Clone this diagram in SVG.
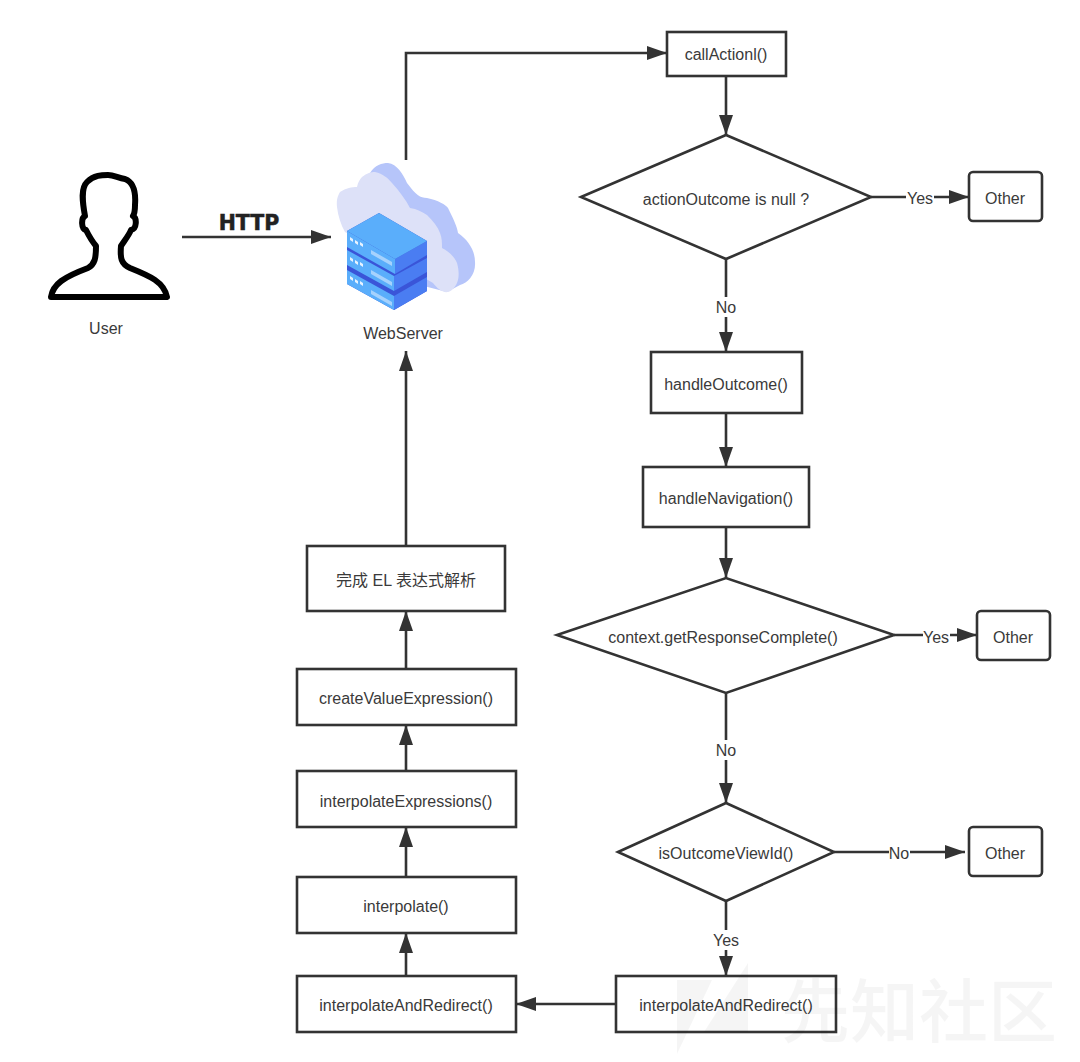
<svg xmlns="http://www.w3.org/2000/svg" width="1080" height="1062" viewBox="0 0 1080 1062">
<style>
text{font-family:"Liberation Sans","Noto Sans CJK SC",sans-serif;font-size:16px;fill:#3a3a3a;text-anchor:middle;dominant-baseline:central}
.n{fill:#fff;stroke:#333;stroke-width:2.6}
.c{fill:none;stroke:#333;stroke-width:2.6}
.w{font-family:"Noto Sans CJK SC",sans-serif;font-size:69px;fill:#000;fill-opacity:.04;font-weight:500;text-anchor:start}
</style>
<defs>
<marker id="a" markerUnits="userSpaceOnUse" markerWidth="22" markerHeight="16" refX="20" refY="7" orient="auto"><path d="M0 0L20 7L0 14Z" fill="#333"/></marker>
</defs>
<rect width="1080" height="1062" fill="#fff"/>
<g id="connectors">
<path class="c" marker-end="url(#a)" d="M182 237H331"/>
<path class="c" marker-end="url(#a)" d="M406 160V53H667"/>
<path class="c" marker-end="url(#a)" d="M726 76V135"/>
<path class="c" marker-end="url(#a)" d="M871 197H969"/>
<path class="c" marker-end="url(#a)" d="M726 259V352"/>
<path class="c" marker-end="url(#a)" d="M726 413V467"/>
<path class="c" marker-end="url(#a)" d="M726 527V578"/>
<path class="c" marker-end="url(#a)" d="M894 635H977"/>
<path class="c" marker-end="url(#a)" d="M726 693V803"/>
<path class="c" marker-end="url(#a)" d="M834 852H965"/>
<path class="c" marker-end="url(#a)" d="M726 901V976"/>
<path class="c" marker-end="url(#a)" d="M616 1004H516"/>
<path class="c" marker-end="url(#a)" d="M406 976V933"/>
<path class="c" marker-end="url(#a)" d="M406 877V827"/>
<path class="c" marker-end="url(#a)" d="M406 771V725"/>
<path class="c" marker-end="url(#a)" d="M406 669V611"/>
<path class="c" marker-end="url(#a)" d="M406 546V351"/>
</g>
<g id="edge-labels">
<rect x="906" y="188" width="28" height="20" fill="#fff"/><text x="920" y="198">Yes</text>
<rect x="923" y="626" width="27" height="20" fill="#fff"/><text x="936" y="637">Yes</text>
<rect x="889" y="843" width="21" height="20" fill="#fff"/><text x="899" y="853">No</text>
<rect x="714" y="297" width="24" height="20" fill="#fff"/><text x="726" y="307">No</text>
<rect x="714" y="740" width="24" height="20" fill="#fff"/><text x="726" y="750">No</text>
<rect x="711" y="930" width="30" height="20" fill="#fff"/><text x="726" y="940">Yes</text>
<text x="249" y="223" style="font-family:'DejaVu Sans',sans-serif;font-weight:700;font-size:20.5px;fill:#222;stroke:#222;stroke-width:.5">HTTP</text>
</g>
<g id="user">
<path d="M51 297C53 284 64 277 88 268C95 264 96 258 96 246C91 240 88 234 86 230C81 229 81 218 85 216C82 200 81 188 87 182C94 175 102 175 108 175C114 175 118 178 125 179C133 182 136 192 135 205C135 210 135 213 133 216C137 218 137 229 131 230C129 235 125 240 121 246C120 258 121 264 130 268C150 276 164 282 167 297Z" fill="#fff" stroke="#000" stroke-width="6" stroke-linejoin="round"/>
<text x="106" y="328">User</text>
</g>
<g id="webserver">
<path d="M370 173C375 165 382 163 388 163C397 164 403 174 407 183C416 195 420 198 427 198C438 200 446 205 448 208C453 218 457 226 458 233C468 240 475 250 475 262C476 274 468 283 460 285L447 292L420 285Z" fill="#b6c5fa"/>
<path d="M337 207C336 198 339 194 340 192C346 188 352 187 357 187C358 182 360 179 362 177C367 173 371 172 375 172C383 174 388 178 392 183C400 192 406 200 410 208C417 209 422 212 427 215C433 221 438 227 440 233C442 238 442 243 442 248C450 252 455 258 457 263C459 270 459 276 458 280C456 287 452 291 448 292C442 293 437 288 433 283L345 232C341 225 338 216 337 207Z" fill="#dde1f8"/>
<g id="stack">
<path d="M347 231L379 213L427 241V291L394 310L347 284Z" fill="#3a55d8"/>
<path d="M347 270L394 296V310L347 284Z" fill="#5aaefb"/><path d="M394 296L427 277V291L394 310Z" fill="#4a7df2"/>
<path d="M347 250L394 276V291L347 265Z" fill="#5aaefb"/><path d="M394 276L427 258V272L394 291Z" fill="#4a7df2"/>
<path d="M347 231L395 259V274L347 247Z" fill="#5aaefb"/><path d="M395 259L427 241V255L395 274Z" fill="#4a7df2"/>
<path d="M347 231L379 213L427 241L395 259Z" fill="#5aaefb"/>
<path d="M371 250L392 262V266L371 254ZM371 270L392 282V286L371 274ZM371 290L392 302V306L371 294Z" fill="#a6d2fd"/>
<path d="M350 237l3 2v3l-3-2zM355 240l3 2v3l-3-2zM360 242l3 2v3l-3-2zM350 257l3 2v3l-3-2zM355 260l3 2v3l-3-2zM360 262l3 2v3l-3-2zM350 276l3 2v3l-3-2zM355 279l3 2v3l-3-2zM360 281l3 2v3l-3-2z" fill="#e8f3ff"/>
</g>
<text x="403" y="333">WebServer</text>
</g>
<g id="callAction"><rect class="n" x="667" y="32" width="119" height="44"/><text x="726" y="54">callActionl()</text></g>
<g id="d1"><path class="n" d="M581 197L726 135L871 197L726 259Z"/><text x="726" y="199">actionOutcome is null ?</text></g>
<g id="other1"><rect class="n" x="969" y="172" width="73" height="49" rx="4"/><text x="1005" y="198">Other</text></g>
<g id="handleOutcome"><rect class="n" x="651" y="352" width="151" height="61"/><text x="726" y="384">handleOutcome()</text></g>
<g id="handleNavigation"><rect class="n" x="643" y="467" width="166" height="60"/><text x="726" y="498">handleNavigation()</text></g>
<g id="d2"><path class="n" d="M557 635L726 578L894 635L726 693Z"/><text x="723" y="637">context.getResponseComplete()</text></g>
<g id="other2"><rect class="n" x="977" y="611" width="73" height="49" rx="4"/><text x="1013" y="637">Other</text></g>
<g id="d3"><path class="n" d="M618 852L726 803L834 852L726 901Z"/><text x="726" y="853">isOutcomeViewId()</text></g>
<g id="other3"><rect class="n" x="969" y="827" width="73" height="49" rx="4"/><text x="1005" y="853">Other</text></g>
<g id="iarR"><rect class="n" x="616" y="976" width="220" height="56"/><text x="726" y="1005">interpolateAndRedirect()</text></g>
<g id="iarL"><rect class="n" x="297" y="976" width="219" height="56"/><text x="406" y="1005">interpolateAndRedirect()</text></g>
<g id="interpolate"><rect class="n" x="297" y="877" width="219" height="56"/><text x="406" y="906">interpolate()</text></g>
<g id="interpolateExpressions"><rect class="n" x="297" y="771" width="219" height="56"/><text x="406" y="801">interpolateExpressions()</text></g>
<g id="createValueExpression"><rect class="n" x="297" y="669" width="219" height="56"/><text x="406" y="698">createValueExpression()</text></g>
<g id="done"><rect class="n" x="307" y="546" width="198" height="65"/><text x="406" y="580">完成 EL 表达式解析</text></g>
<g id="watermark">
<path d="M677 980H712L677 1054ZM704 1032L748 963V1032Z" fill="#000" fill-opacity=".04"/>
<text class="w" x="781" y="1007">先知社区</text>
</g>
</svg>
